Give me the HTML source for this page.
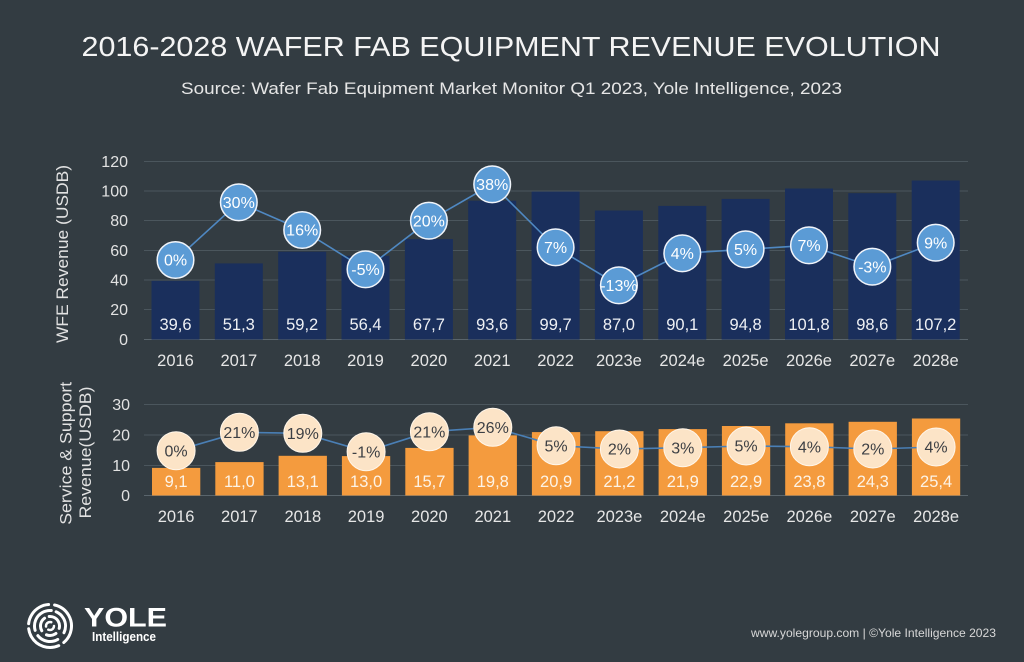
<!DOCTYPE html>
<html><head><meta charset="utf-8"><style>
html,body{margin:0;padding:0;background:#333c42;}
svg{display:block;font-family:"Liberation Sans",sans-serif;}
</style></head><body>
<svg width="1024" height="662" viewBox="0 0 1024 662" xmlns="http://www.w3.org/2000/svg">
<rect width="1024" height="662" fill="#333c42"/>
<text x="511" y="56" text-anchor="middle" font-size="28" fill="#f4f4f4" textLength="859" lengthAdjust="spacingAndGlyphs">2016-2028 WAFER FAB EQUIPMENT REVENUE EVOLUTION</text>
<text x="511.5" y="94" text-anchor="middle" font-size="16.5" fill="#e6e6e6" textLength="661" lengthAdjust="spacingAndGlyphs">Source: Wafer Fab Equipment Market Monitor Q1 2023, Yole Intelligence, 2023</text>

<!-- TOP CHART -->
<g stroke="#4b565d" stroke-width="1">
<line x1="144" y1="161.5" x2="968" y2="161.5"/>
<line x1="144" y1="191" x2="968" y2="191"/>
<line x1="144" y1="220.5" x2="968" y2="220.5"/>
<line x1="144" y1="250.5" x2="968" y2="250.5"/>
<line x1="144" y1="280" x2="968" y2="280"/>
<line x1="144" y1="309.5" x2="968" y2="309.5"/>
<line x1="144" y1="339.5" x2="968" y2="339.5" stroke="#5a656c"/>
</g>
<g font-size="16" fill="#e2e2e2" text-anchor="end">
<text x="128" y="167">120</text>
<text x="128" y="196.5">100</text>
<text x="128" y="226">80</text>
<text x="128" y="256">60</text>
<text x="128" y="285.5">40</text>
<text x="128" y="315">20</text>
<text x="128" y="345">0</text>
</g>
<text transform="translate(68,254) rotate(-90)" text-anchor="middle" font-size="17" fill="#e2e2e2" textLength="178" lengthAdjust="spacingAndGlyphs">WFE Revenue (USDB)</text>

<g fill="#1a2f5c">
<rect x="151.5" y="280.8" width="48" height="58.7"/>
<rect x="214.8" y="263.4" width="48" height="76.1"/>
<rect x="278.2" y="251.7" width="48" height="87.8"/>
<rect x="341.5" y="255.8" width="48" height="83.7"/>
<rect x="404.9" y="239.1" width="48" height="100.4"/>
<rect x="468.2" y="200.7" width="48" height="138.8"/>
<rect x="531.6" y="191.6" width="48" height="147.9"/>
<rect x="594.9" y="210.5" width="48" height="129"/>
<rect x="658.3" y="205.9" width="48" height="133.6"/>
<rect x="721.6" y="198.9" width="48" height="140.6"/>
<rect x="785" y="188.5" width="48" height="151"/>
<rect x="848.3" y="193.2" width="48" height="146.3"/>
<rect x="911.7" y="180.5" width="48" height="159"/>
</g>
<g font-size="16.5" fill="#eef0f4" text-anchor="middle">
<text x="175.5" y="330">39,6</text>
<text x="238.8" y="330">51,3</text>
<text x="302.2" y="330">59,2</text>
<text x="365.5" y="330">56,4</text>
<text x="428.9" y="330">67,7</text>
<text x="492.2" y="330">93,6</text>
<text x="555.6" y="330">99,7</text>
<text x="618.9" y="330">87,0</text>
<text x="682.3" y="330">90,1</text>
<text x="745.6" y="330">94,8</text>
<text x="809" y="330">101,8</text>
<text x="872.3" y="330">98,6</text>
<text x="935.7" y="330">107,2</text>
</g>
<g font-size="16.5" fill="#e6e6e6" text-anchor="middle">
<text x="175.5" y="366">2016</text>
<text x="238.8" y="366">2017</text>
<text x="302.2" y="366">2018</text>
<text x="365.5" y="366">2019</text>
<text x="428.9" y="366">2020</text>
<text x="492.2" y="366">2021</text>
<text x="555.6" y="366">2022</text>
<text x="618.9" y="366">2023e</text>
<text x="682.3" y="366">2024e</text>
<text x="745.6" y="366">2025e</text>
<text x="809" y="366">2026e</text>
<text x="872.3" y="366">2027e</text>
<text x="935.7" y="366">2028e</text>
</g>
<polyline fill="none" stroke="#4f88c2" stroke-width="1.6" points="175.5,260 238.8,202.3 302.2,230 365.5,269.3 428.9,220.7 492.2,184.3 555.6,247.3 618.9,285.3 682.3,253.3 745.6,249.3 809,245.3 872.3,266.7 935.7,242.7"/>
<g fill="#5b9bd5" stroke="#f0f4fa" stroke-width="1.5">
<circle cx="175.5" cy="260" r="18.3"/>
<circle cx="238.8" cy="202.3" r="18.3"/>
<circle cx="302.2" cy="230" r="18.3"/>
<circle cx="365.5" cy="269.3" r="18.3"/>
<circle cx="428.9" cy="220.7" r="18.3"/>
<circle cx="492.2" cy="184.3" r="18.3"/>
<circle cx="555.6" cy="247.3" r="18.3"/>
<circle cx="618.9" cy="285.3" r="18.3"/>
<circle cx="682.3" cy="253.3" r="18.3"/>
<circle cx="745.6" cy="249.3" r="18.3"/>
<circle cx="809" cy="245.3" r="18.3"/>
<circle cx="872.3" cy="266.7" r="18.3"/>
<circle cx="935.7" cy="242.7" r="18.3"/>
</g>
<g font-size="16" fill="#ffffff" text-anchor="middle">
<text x="175.5" y="265.7">0%</text>
<text x="238.8" y="208">30%</text>
<text x="302.2" y="235.7">16%</text>
<text x="365.5" y="275">-5%</text>
<text x="428.9" y="226.4">20%</text>
<text x="492.2" y="190">38%</text>
<text x="555.6" y="253">7%</text>
<text x="618.9" y="291">-13%</text>
<text x="682.3" y="259">4%</text>
<text x="745.6" y="255">5%</text>
<text x="809" y="251">7%</text>
<text x="872.3" y="272.4">-3%</text>
<text x="935.7" y="248.4">9%</text>
</g>

<!-- BOTTOM CHART -->
<g stroke="#4b565d" stroke-width="1">
<line x1="144" y1="404.5" x2="968" y2="404.5"/>
<line x1="144" y1="435" x2="968" y2="435"/>
<line x1="144" y1="465.5" x2="968" y2="465.5"/>
<line x1="144" y1="495.5" x2="968" y2="495.5" stroke="#5a656c"/>
</g>
<g font-size="16" fill="#e2e2e2" text-anchor="end">
<text x="130" y="410">30</text>
<text x="130" y="440.5">20</text>
<text x="130" y="471">10</text>
<text x="130" y="501">0</text>
</g>
<text transform="translate(71.5,453.3) rotate(-90)" text-anchor="middle" font-size="17" fill="#e2e2e2" textLength="143" lengthAdjust="spacingAndGlyphs">Service &amp; Support</text>
<text transform="translate(91,452.5) rotate(-90)" text-anchor="middle" font-size="17" fill="#e2e2e2" textLength="132" lengthAdjust="spacingAndGlyphs">Revenue(USDB)</text>

<g fill="#f49b3e">
<rect x="152" y="467.9" width="48.3" height="27.6"/>
<rect x="215.3" y="462.1" width="48.3" height="33.4"/>
<rect x="278.6" y="455.8" width="48.3" height="39.7"/>
<rect x="341.9" y="456.1" width="48.3" height="39.4"/>
<rect x="405.3" y="447.9" width="48.3" height="47.6"/>
<rect x="468.6" y="435.4" width="48.3" height="60.1"/>
<rect x="531.9" y="432.1" width="48.3" height="63.4"/>
<rect x="595.2" y="431.2" width="48.3" height="64.3"/>
<rect x="658.6" y="429.1" width="48.3" height="66.4"/>
<rect x="721.9" y="426" width="48.3" height="69.5"/>
<rect x="785.2" y="423.3" width="48.3" height="72.2"/>
<rect x="848.6" y="421.8" width="48.3" height="73.7"/>
<rect x="911.9" y="418.5" width="48.3" height="77"/>
</g>
<g font-size="16.5" fill="#fdf3e6" text-anchor="middle">
<text x="176.1" y="487">9,1</text>
<text x="239.4" y="487">11,0</text>
<text x="302.8" y="487">13,1</text>
<text x="366.1" y="487">13,0</text>
<text x="429.4" y="487">15,7</text>
<text x="492.8" y="487">19,8</text>
<text x="556.1" y="487">20,9</text>
<text x="619.4" y="487">21,2</text>
<text x="682.8" y="487">21,9</text>
<text x="746.1" y="487">22,9</text>
<text x="809.4" y="487">23,8</text>
<text x="872.8" y="487">24,3</text>
<text x="936.1" y="487">25,4</text>
</g>
<g font-size="16.5" fill="#e6e6e6" text-anchor="middle">
<text x="176.1" y="522">2016</text>
<text x="239.4" y="522">2017</text>
<text x="302.8" y="522">2018</text>
<text x="366.1" y="522">2019</text>
<text x="429.4" y="522">2020</text>
<text x="492.8" y="522">2021</text>
<text x="556.1" y="522">2022</text>
<text x="619.4" y="522">2023e</text>
<text x="682.8" y="522">2024e</text>
<text x="746.1" y="522">2025e</text>
<text x="809.4" y="522">2026e</text>
<text x="872.8" y="522">2027e</text>
<text x="936.1" y="522">2028e</text>
</g>
<polyline fill="none" stroke="#4a7fb5" stroke-width="1.6" points="176.1,450.7 239.4,432.3 302.8,433.3 366.1,451.7 429.4,431.7 492.8,427.3 556.1,445.7 619.4,449 682.8,447.7 746.1,446 809.4,446.7 872.8,449 936.1,447"/>
<g fill="#fce4c7" stroke="#fff6ea" stroke-width="1">
<circle cx="176.1" cy="450.7" r="19"/>
<circle cx="239.4" cy="432.3" r="19"/>
<circle cx="302.8" cy="433.3" r="19"/>
<circle cx="366.1" cy="451.7" r="19"/>
<circle cx="429.4" cy="431.7" r="19"/>
<circle cx="492.8" cy="427.3" r="19"/>
<circle cx="556.1" cy="445.7" r="19"/>
<circle cx="619.4" cy="449" r="19"/>
<circle cx="682.8" cy="447.7" r="19"/>
<circle cx="746.1" cy="446" r="19"/>
<circle cx="809.4" cy="446.7" r="19"/>
<circle cx="872.8" cy="449" r="19"/>
<circle cx="936.1" cy="447" r="19"/>
</g>
<g font-size="16" fill="#3c3f44" text-anchor="middle">
<text x="176.1" y="456.4">0%</text>
<text x="239.4" y="438">21%</text>
<text x="302.8" y="439">19%</text>
<text x="366.1" y="457.4">-1%</text>
<text x="429.4" y="437.4">21%</text>
<text x="492.8" y="433">26%</text>
<text x="556.1" y="451.4">5%</text>
<text x="619.4" y="454.7">2%</text>
<text x="682.8" y="453.4">3%</text>
<text x="746.1" y="451.7">5%</text>
<text x="809.4" y="452.4">4%</text>
<text x="872.8" y="454.7">2%</text>
<text x="936.1" y="452.7">4%</text>
</g>

<!-- LOGO -->
<g fill="none" stroke="#ffffff" stroke-width="3" stroke-linecap="round">
<circle cx="50" cy="626" r="21.5" stroke-dasharray="30 6 40 5 30 6" transform="rotate(-30 50 626)"/>
<circle cx="50" cy="626" r="15.5" stroke-dasharray="22 6 30 5 25 10" transform="rotate(60 50 626)"/>
<circle cx="50" cy="626" r="9.5" stroke-dasharray="14 5 18 6 10 7" transform="rotate(150 50 626)"/>
<circle cx="50" cy="626" r="4" stroke-dasharray="8 4 8 5" stroke-width="2.5"/>
</g>
<text x="84" y="626.5" font-size="27" font-weight="bold" fill="#ffffff" textLength="83" lengthAdjust="spacingAndGlyphs">YOLE</text>
<text x="92" y="641" font-size="12.5" font-weight="bold" fill="#ffffff" textLength="64" lengthAdjust="spacingAndGlyphs">Intelligence</text>

<text x="996" y="637" text-anchor="end" font-size="12" fill="#d8d8d8" textLength="245" lengthAdjust="spacingAndGlyphs">www.yolegroup.com | ©Yole Intelligence 2023</text>
</svg>
</body></html>
